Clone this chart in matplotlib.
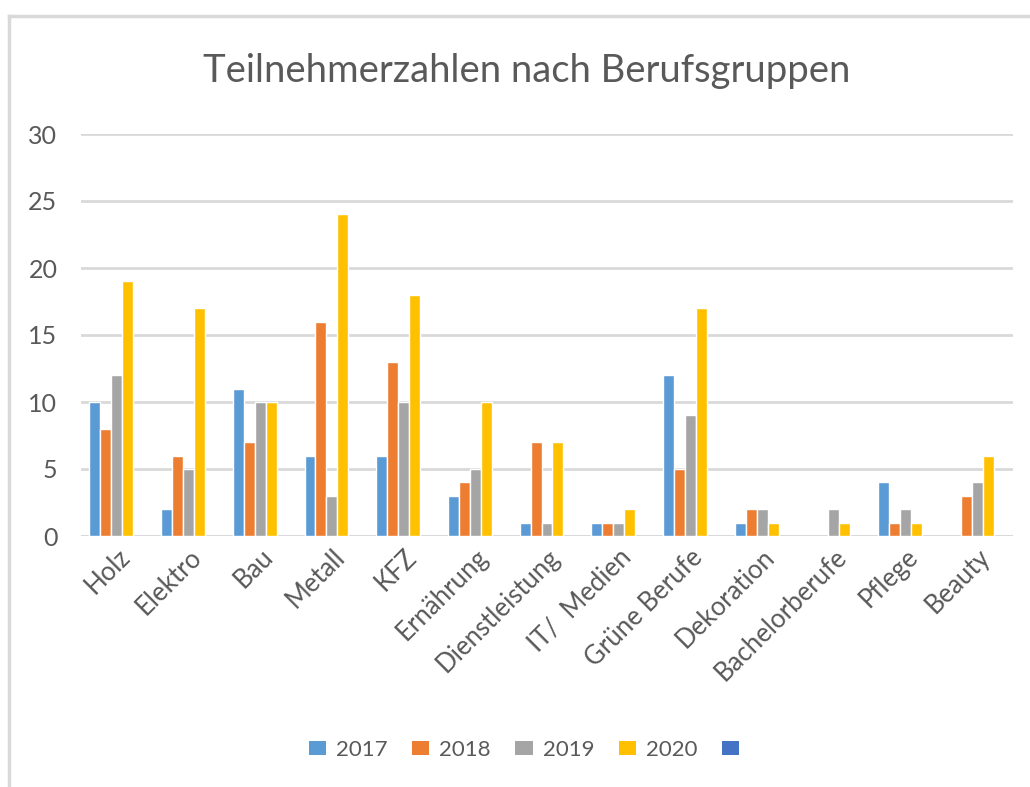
import matplotlib
matplotlib.use("Agg")
import matplotlib.pyplot as plt
from matplotlib.patches import Patch
from matplotlib.lines import Line2D
import numpy as np

categories = ["Holz", "Elektro", "Bau", "Metall", "KFZ", "Ernährung", "Dienstleistung",
              "IT/  Medien", "Grüne Berufe", "Dekoration", "Bachelorberufe", "Pflege", "Beauty"]
years = ["2017", "2018", "2019", "2020"]
v2017 = [10, 2, 11, 6, 6, 3, 1, 1, 12, 1, 0, 4, 0]
v2018 = [8, 6, 7, 16, 13, 4, 7, 1, 5, 2, 0, 1, 3]
v2019 = [12, 5, 10, 3, 10, 5, 1, 1, 9, 2, 2, 2, 4]
v2020 = [19, 17, 10, 24, 18, 10, 7, 2, 17, 1, 1, 1, 6]
yticks = [0, 5, 10, 15, 20, 25, 30]

colors = ["#5B9BD5", "#ED7D31", "#A5A5A5", "#FFC000"]
extra_color = "#4472C4"
text_color = "#595959"
grid_color = "#D9D9D9"

plt.rcParams['font.family'] = ['Lato', 'DejaVu Sans']

fig = plt.figure(figsize=(10.30, 7.87), dpi=100)
ax = fig.add_axes([81/1030, 1 - 536/787, 932/1030, 402/787])

x = np.arange(len(categories))
slot = 0.153
series = [v2017, v2018, v2019, v2020]
for i, vals in enumerate(series):
    vals = np.array(vals, dtype=float)
    mask = vals > 0
    ax.bar(x[mask] + (i - 2) * slot, vals[mask], width=slot, color=colors[i],
           edgecolor="white", linewidth=1.0, zorder=3)

ax.set_xlim(-0.5, len(categories) - 0.5)
ax.set_ylim(0, 30)
ax.set_yticks(yticks)
ax.set_yticklabels([str(t) for t in yticks])
ax.yaxis.grid(True, color=grid_color, linewidth=2.0, zorder=0)
ax.set_axisbelow(True)
for s in ["top", "right", "left", "bottom"]:
    ax.spines[s].set_visible(False)
ax.axhline(0, color=grid_color, linewidth=2.0, zorder=2)
ax.tick_params(axis='both', length=0, colors=text_color)
ax.tick_params(axis='y', pad=17, labelsize=18)
ax.set_xticks(x)
ax.set_xticklabels(categories, rotation=45, ha='right', rotation_mode='anchor', color=text_color, fontsize=18.5)
ax.tick_params(axis='x', pad=6)

fig.text(527/1030, 1 - 71/787, "Teilnehmerzahlen nach Berufsgruppen", ha='center', va='center',
         fontsize=27.5, color=text_color)

handles = [Patch(facecolor=c, edgecolor='none') for c in colors] + [Patch(facecolor=extra_color, edgecolor='none')]
labels = years + [""]
fig.legend(handles, labels, loc='center', bbox_to_anchor=(529/1030, 1 - 750/787), ncol=5, frameon=False,
           fontsize=16, labelcolor=text_color, handlelength=0.78, handleheight=0.6, handletextpad=0.45,
           columnspacing=1.1)

# outer chart border (top and left visible)
fig.add_artist(Line2D([9/1030, 1.0], [1 - 16/787, 1 - 16/787], color=grid_color, linewidth=2.5))
fig.add_artist(Line2D([9/1030, 9/1030], [1 - 16/787, 0.0], color=grid_color, linewidth=2.5))

fig.savefig("out.png", dpi=100)
